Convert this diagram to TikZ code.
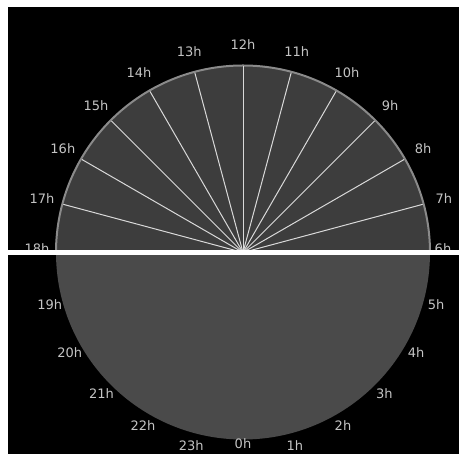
\documentclass[tikz,border=0pt]{standalone}
\usepackage{fontspec}
\setmainfont{DejaVu Sans}
\usepackage{xcolor}
\usepackage{tikz}
\usetikzlibrary{calc}
\definecolor{dayfill}{HTML}{3D3D3D}
\definecolor{nightfill}{HTML}{4A4A4A}
\definecolor{rimgray}{HTML}{8A8A8A}
\definecolor{labelgray}{HTML}{C4C4C4}
\tikzstyle{hour} = [text=labelgray, font=\fontsize{13}{13}\selectfont, inner sep=0pt]
\tikzstyle{ray} = [draw=white!85!black, line width=1pt]

\begin{document}
\begin{tikzpicture}[x=1pt, y=1pt]
    % Frame
    \fill[white] (0,0) rectangle (459,454);
    \fill[black] (8,0) rectangle (459,447);
    \useasboundingbox (0,0) rectangle (459,454);
    \coordinate (c) at (243,201.5);
    
    % Night half
    \fill[nightfill] ($(c)+(-187,0)$) arc[start angle=180, end angle=360, radius=187] -- cycle;
    
    % Day half
    \filldraw[fill=dayfill, draw=rimgray, line width=2pt] ($(c)+(187,0)$) arc[start angle=0, end angle=180, radius=187] -- cycle;
    
    % Rays
    \foreach \a in {15,30,...,165}
        \coordinate (r\a) at ($(c)+(\a:186)$);
    \foreach \a in {15,30,...,165}
        \draw[ray] (c) -- (r\a);
    
    % Hour labels
    \foreach \h in {7,...,17}
        \node[hour] (h\h) at ($(c)+({(\h-6)*15}:208)$) {\h h};
    \foreach \h in {19,...,23,1,2,...,5}
        \node[hour] (h\h) at ($(c)+({(\h-6)*15}:200)$) {\h h};
    \node[hour] (h0) at ($(c)+(0,-191)$) {0h};
    \node[hour] (h6) at ($(c)+(200,4)$) {6h};
    \node[hour] (h18) at ($(c)+(-206,4)$) {18h};
    
    % Horizon
    \coordinate (west) at (8,201.5);
    \coordinate (east) at (459,201.5);
    \draw[white, line width=5pt] (west) -- (east);
\end{tikzpicture}
\end{document}
